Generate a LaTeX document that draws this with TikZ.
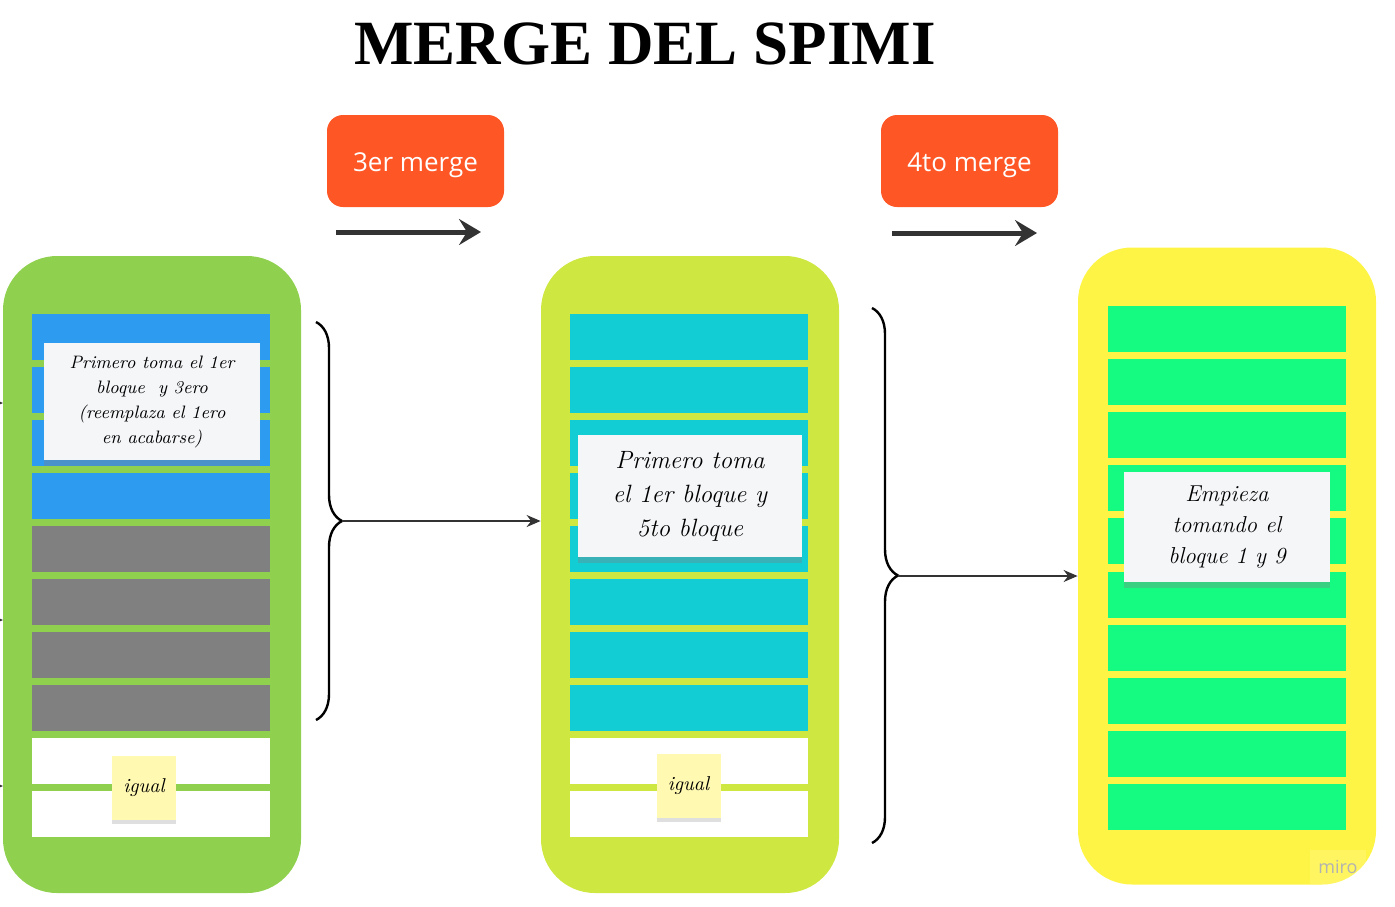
\documentclass[tikz,border=0pt]{standalone}
\usepackage{fontspec}
\newfontfamily\titlefont{Liberation Serif}
\newfontfamily\labelfont{Open Sans}
\usetikzlibrary{positioning,arrows.meta,decorations.pathreplacing,shadows}

\definecolor{pgreen}{HTML}{8FD14F}
\definecolor{plime}{HTML}{CEE741}
\definecolor{pyellow}{HTML}{FEF445}
\definecolor{bblue}{HTML}{2D9BF0}
\definecolor{bgray}{HTML}{808080}
\definecolor{bcyan}{HTML}{12CDD4}
\definecolor{bmint}{HTML}{15FB82}
\definecolor{morange}{HTML}{FF5626}
\definecolor{notewhite}{HTML}{F5F6F8}
\definecolor{noteyellow}{HTML}{FFF9B1}
\definecolor{darkarrow}{HTML}{333333}

\tikzset{
  panel/.style={rounded corners=27pt, minimum width=149pt, minimum height=318.5pt, inner sep=0pt},
  block/.style={minimum width=119pt, minimum height=23pt, inner sep=0pt},
  mergebox/.style={fill=morange, rounded corners=8pt, minimum width=88.5pt, minimum height=46pt,
    text height=13pt, text depth=3pt, text=white, font=\labelfont\fontsize{13}{15}\selectfont},
  note/.style={fill=notewhite, inner sep=0pt, align=center, font=\itshape,
    drop shadow={shadow xshift=0pt, shadow yshift=-3pt, opacity=0.35}},
  sticky/.style={fill=noteyellow, minimum size=32pt, inner sep=0pt, font=\itshape\fontsize{10}{12}\selectfont,
    drop shadow={shadow xshift=0pt, shadow yshift=-2pt, opacity=0.25}},
  bigarrow/.style={draw=darkarrow, line width=2.5pt, -{Stealth[length=11pt, width=13pt, inset=4pt]}},
  thinarrow/.style={draw=darkarrow, line width=0.8pt, -{Stealth[length=7pt, width=6pt]}},
  mybrace/.style={draw=black, line width=1.2pt, decorate, decoration={brace, amplitude=13pt}}
}

\begin{document}
\begin{tikzpicture}[x=0.5pt, y=-0.5pt]
  \useasboundingbox (0,0) rectangle (1395,906);
  %title and merge labels
  \node at (645,44) (title) {\titlefont\bfseries\fontsize{31.5}{36}\selectfont MERGE DEL SPIMI};
  \node[mergebox] at (415.5,161) (merge3) {3er merge};
  \node[mergebox] at (969.5,161) (merge4) {4to merge};
  \coordinate (m3a) at (336,232); \coordinate (m3b) at (481,232);
  \coordinate (m4a) at (892,233); \coordinate (m4b) at (1037,233);
  \draw[bigarrow] (m3a) -- (m3b);
  \draw[bigarrow] (m4a) -- (m4b);
  %panels
  \node[panel, fill=pgreen] at (152,574.5) (runs) {};
  \node[panel, fill=plime] at (690,574.5) (mid) {};
  \node[panel, fill=pyellow] at (1227,566) (final) {};
  %blocks
  \foreach \c [count=\i] in {bblue,bblue,bblue,bblue,bgray,bgray,bgray,bgray,white,white}
    \node[block, fill=\c] at (151,284+53*\i) (a\i) {};
  \foreach \c [count=\i] in {bcyan,bcyan,bcyan,bcyan,bcyan,bcyan,bcyan,bcyan,white,white}
    \node[block, fill=\c] at (689,284+53*\i) (b\i) {};
  \foreach \i in {1,...,10}
    \node[block, fill=bmint] at (1227,275.9+53.1*\i) (c\i) {};
  %notes
  \node[note, minimum width=108pt, minimum height=58.5pt, font=\itshape\fontsize{9}{12.5}\selectfont]
    at (152,401.5) (note1) {Primero toma el 1er\\bloque \ y 3ero\\(reemplaza el 1ero\\en acabarse)};
  \node[note, minimum width=112pt, minimum height=61pt, font=\itshape\fontsize{12.5}{17}\selectfont]
    at (690,496) (note2) {Primero toma\\el 1er bloque y\\5to bloque};
  \node[note, minimum width=103pt, minimum height=55pt, font=\itshape\fontsize{11.5}{15.5}\selectfont]
    at (1227,527) (note3) {Empieza\\tomando el\\bloque 1 y 9};
  \node[sticky] at (144,787.5) (igual1) {igual};
  \node[sticky] at (688.5,786) (igual2) {igual};
  %braces and arrows
  \coordinate (br1top) at (316,322); \coordinate (br1bot) at (316,720);
  \coordinate (br1tip) at (342,521);
  \draw[mybrace] (br1top) -- (br1bot);
  \draw[thinarrow] (br1tip) -- (br1tip -| mid.west);
  \coordinate (br2top) at (872,308); \coordinate (br2bot) at (872,843);
  \coordinate (br2tip) at (898,576);
  \draw[mybrace] (br2top) -- (br2bot);
  \draw[thinarrow] (br2tip) -- (br2tip -| final.west);
  %cut connectors at the left edge
  \foreach \y/\n in {403/s1,620/s2,786/s3} {
    \coordinate (\n a) at (-8,\y); \coordinate (\n b) at (3,\y);
    \draw[thinarrow] (\n a) -- (\n b);
  }
  \node[fill=white, fill opacity=0.15, text opacity=1, text=black!30, minimum width=28pt, minimum height=17pt,
    font=\labelfont\fontsize{9}{9}\selectfont] at (1338,867) (miro) {miro};
\end{tikzpicture}
\end{document}
